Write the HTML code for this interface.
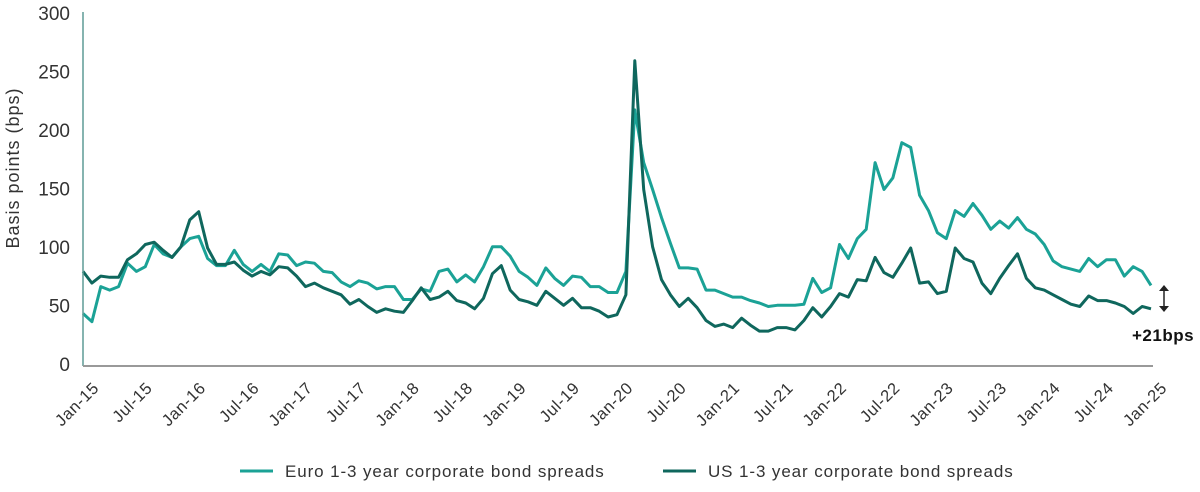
<!DOCTYPE html>
<html><head><meta charset="utf-8"><style>
body{margin:0;background:#fff;width:1200px;height:487px;overflow:hidden;font-family:"Liberation Sans",sans-serif}
svg text{font-family:"Liberation Sans",sans-serif}
</style></head><body>
<svg id="chart" width="1200" height="487" viewBox="0 0 1200 487" xmlns="http://www.w3.org/2000/svg">
<g id="ygrid"></g><g id="xlabels"></g><g id="lines"></g>
<line x1="83" y1="12" x2="83" y2="366" stroke="#5f9c95" stroke-width="1.5"/>
<line x1="83" y1="366" x2="1153" y2="366" stroke="#999" stroke-width="2"/>
<text transform="translate(19,168) rotate(-90)" text-anchor="middle" font-size="18" letter-spacing="1" fill="#333">Basis points (bps)</text>
<g>
<line x1="1164" y1="289" x2="1164" y2="308" stroke="#222" stroke-width="1.5"/>
<polygon points="1159,291 1169,291 1164,285" fill="#222"/>
<polygon points="1159,306 1169,306 1164,312" fill="#222"/>
<text x="1132" y="341" font-size="17" font-weight="bold" letter-spacing="0.5" fill="#111">+21bps</text>
</g>
<g>
<line x1="240" y1="471" x2="273" y2="471" stroke="#1ba296" stroke-width="3"/>
<text x="285" y="477" font-size="17" letter-spacing="0.9" fill="#333">Euro 1-3 year corporate bond spreads</text>
<line x1="663" y1="471" x2="696" y2="471" stroke="#0f675d" stroke-width="3"/>
<text x="708" y="477" font-size="17" letter-spacing="0.9" fill="#333">US 1-3 year corporate bond spreads</text>
</g>
</svg>
<script>
const yTicks=[0,50,100,150,200,250,300];
const xTickLabels=["Jan-15","Jul-15","Jan-16","Jul-16","Jan-17","Jul-17","Jan-18","Jul-18","Jan-19","Jul-19","Jan-20","Jul-20","Jan-21","Jul-21","Jan-22","Jul-22","Jan-23","Jul-23","Jan-24","Jul-24","Jan-25"];
const euroSpread=[44,37,67,64,67,87,80,84,103,95,92,101,108,110,91,85,85,98,86,80,86,80,95,94,85,88,87,80,79,71,67,72,70,65,67,67,56,56,65,63,80,82,71,77,71,84,101,101,93,80,75,68,83,74,68,76,75,67,67,62,62,80,218,173,150,126,104,83,83,82,64,64,61,58,58,55,53,50,51,51,51,52,74,62,66,103,91,108,116,173,150,160,190,186,145,132,113,108,132,127,138,128,116,123,117,126,116,112,103,89,84,82,80,91,84,90,90,76,84,80,68];
const usSpread=[80,70,76,75,75,90,95,103,105,98,92,101,124,131,100,86,86,88,81,76,80,77,84,83,76,67,70,66,63,60,52,56,50,45,48,46,45,55,66,56,58,63,55,53,48,57,78,85,64,56,54,51,63,57,51,57,49,49,46,41,43,60,260,150,101,73,60,50,57,49,38,33,35,32,40,34,29,29,32,32,30,38,49,41,50,61,58,73,72,92,79,75,87,100,70,71,61,63,100,91,88,70,61,74,85,95,74,66,64,60,56,52,50,59,55,55,53,50,44,50,48];
const NS="http://www.w3.org/2000/svg";
const X0=83,X1=1151,Y0=365,YMAX=300,YTOP=14;
function xs(i){return X0+(X1-X0)*i/120;}
function ys(v){return Y0-(Y0-YTOP)*v/YMAX;}
const yg=document.getElementById('ygrid');
yTicks.forEach(t=>{const el=document.createElementNS(NS,'text');
el.setAttribute('x',70);el.setAttribute('y',ys(t)+6);el.setAttribute('text-anchor','end');el.setAttribute('font-size','19');el.setAttribute('fill','#333');el.textContent=t;


yg.appendChild(el);});
const xl=document.getElementById('xlabels');
xTickLabels.forEach((l,k)=>{const x=xs(k*6)+9,y=381;const el=document.createElementNS(NS,'text');
el.setAttribute('transform','translate('+x+','+y+') rotate(-45)');el.setAttribute('text-anchor','end');el.setAttribute('dominant-baseline','hanging');el.setAttribute('font-size','16.5');el.setAttribute('letter-spacing','0.6');el.setAttribute('fill','#333');el.textContent=l;


xl.appendChild(el);});
const lg=document.getElementById('lines');
function draw(arr,color,name){const p=document.createElementNS(NS,'polyline');
p.setAttribute('points',arr.map((v,i)=>xs(i).toFixed(1)+','+ys(v).toFixed(1)).join(' '));
p.setAttribute('fill','none');p.setAttribute('stroke',color);p.setAttribute('stroke-width','3');p.setAttribute('stroke-linejoin','round');


lg.appendChild(p);}
draw(euroSpread,'#1ba296','euro-spread-line');
draw(usSpread,'#0f675d','us-spread-line');
</script>
</body></html>
